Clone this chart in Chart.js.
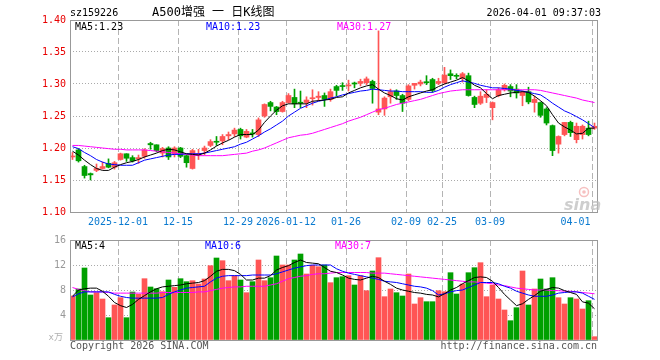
<!DOCTYPE html>
<html><head><meta charset="utf-8">
<script src="https://cdn.jsdelivr.net/npm/chart.js@4/dist/chart.umd.min.js"></script>
<style>
html,body{margin:0;padding:0;background:#fff;width:660px;height:360px;overflow:hidden}
#c1{position:absolute;left:0;top:0}
#c2{position:absolute;left:0;top:230px}
</style></head><body>
<canvas id="c1" width="660" height="230"></canvas>
<canvas id="c2" width="660" height="130"></canvas>
<script>
// ---- data ----
const opens  = [1.186,1.197,1.171,1.160,1.165,1.168,1.176,1.170,1.182,1.191,1.185,1.183,1.187,1.207,1.205,1.192,1.200,1.191,1.200,1.188,1.168,1.189,1.196,1.204,1.210,1.211,1.219,1.222,1.229,1.217,1.223,1.221,1.250,1.271,1.264,1.257,1.271,1.279,1.271,1.271,1.277,1.279,1.282,1.276,1.296,1.297,1.297,1.301,1.301,1.302,1.304,1.256,1.261,1.280,1.289,1.282,1.276,1.298,1.300,1.303,1.307,1.301,1.302,1.316,1.313,1.309,1.313,1.279,1.270,1.279,1.263,1.282,1.291,1.296,1.292,1.282,1.288,1.271,1.271,1.261,1.235,1.206,1.221,1.240,1.213,1.221,1.231,1.231];
const highs  = [1.193,1.199,1.173,1.161,1.175,1.178,1.183,1.179,1.192,1.191,1.188,1.189,1.199,1.209,1.205,1.201,1.202,1.202,1.201,1.189,1.198,1.198,1.203,1.213,1.218,1.221,1.225,1.231,1.231,1.229,1.229,1.247,1.269,1.273,1.265,1.273,1.285,1.292,1.289,1.280,1.291,1.288,1.286,1.292,1.298,1.302,1.306,1.303,1.3075,1.311,1.306,1.383,1.280,1.292,1.291,1.284,1.299,1.301,1.306,1.313,1.309,1.309,1.326,1.322,1.316,1.318,1.317,1.281,1.288,1.291,1.272,1.294,1.300,1.299,1.299,1.289,1.295,1.281,1.272,1.263,1.236,1.219,1.240,1.242,1.239,1.236,1.242,1.239];
const lows   = [1.182,1.178,1.153,1.150,1.163,1.167,1.169,1.167,1.181,1.179,1.178,1.176,1.184,1.198,1.194,1.186,1.182,1.186,1.185,1.170,1.167,1.182,1.189,1.202,1.204,1.205,1.213,1.218,1.214,1.216,1.217,1.218,1.248,1.258,1.252,1.256,1.270,1.263,1.263,1.263,1.267,1.274,1.265,1.273,1.281,1.290,1.289,1.294,1.297,1.299,1.270,1.252,1.251,1.270,1.276,1.257,1.274,1.292,1.297,1.299,1.287,1.299,1.300,1.307,1.308,1.303,1.281,1.263,1.268,1.271,1.244,1.280,1.289,1.280,1.278,1.266,1.269,1.256,1.248,1.236,1.188,1.192,1.219,1.218,1.208,1.214,1.219,1.229];
const closes = [1.187,1.180,1.157,1.158,1.168,1.171,1.170,1.177,1.191,1.184,1.180,1.185,1.197,1.205,1.196,1.199,1.186,1.200,1.187,1.177,1.196,1.191,1.200,1.210,1.209,1.218,1.221,1.228,1.219,1.226,1.222,1.244,1.268,1.265,1.257,1.271,1.282,1.269,1.270,1.275,1.278,1.281,1.276,1.288,1.290,1.296,1.298,1.300,1.304,1.308,1.293,1.261,1.278,1.288,1.282,1.270,1.297,1.301,1.303,1.302,1.290,1.304,1.314,1.313,1.312,1.316,1.282,1.268,1.281,1.284,1.271,1.291,1.298,1.289,1.286,1.287,1.272,1.276,1.251,1.239,1.196,1.218,1.240,1.224,1.234,1.234,1.221,1.234];
const ma5  = [1.195,1.189,1.181,1.174,1.168,1.165,1.165,1.170,1.174,1.177,1.179,1.182,1.186,1.189,1.192,1.196,1.198,1.197,1.194,1.191,1.190,1.189,1.192,1.197,1.203,1.208,1.212,1.217,1.221,1.221,1.221,1.228,1.240,1.250,1.259,1.266,1.269,1.269,1.269,1.269,1.273,1.274,1.275,1.276,1.279,1.280,1.286,1.290,1.294,1.297,1.299,1.292,1.286,1.282,1.277,1.275,1.280,1.283,1.286,1.289,1.291,1.296,1.300,1.303,1.306,1.310,1.305,1.298,1.294,1.285,1.277,1.282,1.284,1.286,1.287,1.288,1.287,1.281,1.274,1.266,1.252,1.239,1.233,1.228,1.222,1.223,1.231,1.231];
const ma10 = [1.202,1.199,1.193,1.188,1.182,1.178,1.175,1.174,1.173,1.173,1.173,1.177,1.181,1.183,1.185,1.187,1.189,1.190,1.190,1.191,1.191,1.191,1.192,1.194,1.196,1.198,1.200,1.202,1.206,1.209,1.214,1.219,1.225,1.230,1.236,1.242,1.250,1.256,1.262,1.266,1.270,1.273,1.275,1.278,1.280,1.283,1.285,1.287,1.289,1.290,1.292,1.291,1.290,1.289,1.289,1.288,1.288,1.288,1.288,1.287,1.287,1.290,1.295,1.299,1.302,1.305,1.303,1.301,1.298,1.296,1.294,1.294,1.293,1.292,1.290,1.289,1.287,1.285,1.283,1.277,1.270,1.264,1.258,1.254,1.249,1.244,1.238,1.232];
const ma30 = [1.204,1.204,1.203,1.202,1.201,1.200,1.199,1.198,1.198,1.197,1.197,1.197,1.197,1.196,1.195,1.194,1.193,1.192,1.191,1.190,1.189,1.188,1.188,1.188,1.188,1.188,1.189,1.190,1.191,1.192,1.195,1.197,1.200,1.204,1.208,1.212,1.216,1.218,1.220,1.221,1.223,1.226,1.229,1.232,1.235,1.238,1.242,1.245,1.248,1.252,1.256,1.260,1.262,1.265,1.268,1.270,1.272,1.274,1.276,1.279,1.282,1.285,1.287,1.289,1.290,1.291,1.291,1.291,1.291,1.291,1.291,1.291,1.291,1.291,1.291,1.291,1.291,1.291,1.290,1.288,1.286,1.284,1.282,1.280,1.278,1.275,1.273,1.271];
const volumes = [7.04,8.16,11.52,7.2,7.57,6.56,3.57,5.6,6.77,3.57,7.68,7.31,9.81,8.48,8.21,7.73,9.6,8.43,9.81,9.33,9.49,8.96,9.76,11.89,13.12,12.69,9.49,10.29,9.6,7.57,9.33,12.8,9.49,9.97,13.44,12.0,12.0,12.8,13.76,10.56,11.95,11.73,12.0,9.17,9.97,10.13,10.29,8.8,10.29,7.89,11.04,13.17,6.93,8.16,7.57,7.04,10.56,5.76,6.77,6.13,6.13,7.89,7.73,10.77,7.36,8.96,10.77,11.57,12.37,6.93,8.8,6.56,4.8,3.09,5.17,11.04,5.6,8.16,9.76,8.16,9.97,6.77,5.76,6.77,6.56,4.96,6.29,0.53];
const volMa5  = [7.0,8.0,8.2,8.3,8.3,7.8,7.0,6.0,5.5,5.2,5.7,6.5,7.1,7.7,8.2,8.5,8.6,8.7,8.8,9.0,9.1,9.2,9.5,10.2,11.0,11.3,11.3,11.1,10.5,9.6,9.6,9.9,9.9,10.3,11.2,11.6,11.9,12.4,12.8,12.4,12.3,12.2,11.6,11.0,10.8,10.4,9.9,9.7,9.6,9.9,10.2,10.0,9.4,8.9,8.3,8.0,7.8,7.6,7.5,7.3,7.2,6.9,7.4,8.0,8.4,9.0,9.5,10.0,10.1,10.0,9.4,8.4,7.3,6.4,5.5,5.8,6.5,7.1,7.8,8.1,8.4,8.3,7.9,7.6,7.3,6.1,5.9,5.0];
const volMa10 = [6.9,7.4,7.7,7.7,7.7,7.7,7.7,7.3,7.0,6.8,6.7,6.7,6.7,6.7,6.7,6.8,7.3,7.7,8.0,8.3,8.4,8.5,8.6,9.3,9.9,10.2,10.3,10.3,10.3,10.3,10.4,10.4,10.4,10.4,10.6,10.9,11.2,11.5,11.7,11.9,12.0,12.0,12.0,12.0,11.4,11.0,10.7,10.5,10.3,10.1,9.9,9.7,9.4,9.3,9.2,9.0,8.8,8.6,8.5,8.3,7.9,7.2,7.4,7.7,7.9,8.0,8.4,8.8,9.2,9.2,9.2,9.0,8.6,8.3,7.8,7.5,7.2,7.0,7.0,7.0,7.2,7.5,7.6,7.7,7.7,7.5,7.0,6.5];
const volMa30 = [8.4,8.1,7.9,7.7,7.7,7.7,7.6,7.5,7.5,7.5,7.5,7.5,7.5,7.5,7.5,7.6,7.6,7.6,7.6,7.6,7.6,7.7,7.7,7.9,8.1,8.3,8.4,8.5,8.5,8.6,8.6,8.6,8.6,8.8,9.0,9.4,9.8,10.0,10.2,10.3,10.5,10.6,10.6,10.7,10.8,10.8,10.8,10.8,10.8,10.8,10.7,10.7,10.7,10.6,10.5,10.4,10.3,10.2,10.1,10.0,9.9,9.8,9.7,9.6,9.5,9.4,9.3,9.3,9.2,9.1,9.0,8.8,8.7,8.5,8.3,8.2,8.1,8.0,8.0,8.0,7.9,7.9,7.8,7.8,7.7,7.6,7.5,7.4];
const dateTicks  = [8,18,28,36,46,56,62,70,87];
const dateLabels = ['2025-12-01','12-15','12-29','2026-01-12','01-26','02-09','02-25','03-09','04-01'];
const priceTicks = [1.10,1.15,1.20,1.25,1.30,1.35,1.40];
const volTicks   = [0,4,8,12,16];
const priceMaLabels = ['MA5:1.23','MA10:1.23','MA30:1.27'];
const volMaLabels   = ['MA5:4','MA10:6','MA30:7'];
const headerCode = 'sz159226';
const headerTitle = 'A500增强 一 日K线图';
const headerTime = '2026-04-01 09:37:03';

// ---- styling / rendering ----
const RED = '#ff5555', GREEN = '#00a000';
const MA_COLORS = ['#000000', '#0000ff', '#ff00ff'];
const MONO = "10px 'DejaVu Sans Mono', monospace";
Chart.defaults.font.family = "'DejaVu Sans Mono', monospace";
Chart.defaults.font.size = 10;

const X_MIN = -5/12, X_MAX = X_MIN + 88;
const upColors = closes.map((c, i) => c >= opens[i] ? RED : GREEN);
const pts = arr => arr.map((v, i) => ({x: i, y: v}));
const lineDs = (arr, k) => ({type: 'line', data: pts(arr), borderColor: MA_COLORS[k], borderWidth: 1,
  pointRadius: 0, tension: 0, order: 0});

function txt(ctx, s, x, y, color, font, align) {
  ctx.save(); ctx.font = font || MONO; ctx.fillStyle = color; ctx.textAlign = align || 'left';
  ctx.textBaseline = 'middle'; ctx.fillText(s, x, y); ctx.restore();
}
function frame(chart) {
  const a = chart.chartArea, ctx = chart.ctx;
  ctx.save(); ctx.strokeStyle = '#999'; ctx.lineWidth = 1;
  ctx.strokeRect(a.left + 0.5, a.top + 0.5, a.right - a.left - 1, a.bottom - a.top);
  ctx.restore();
}
const xScale = () => ({
  type: 'linear', min: X_MIN, max: X_MAX, offset: false,
  afterBuildTicks: s => { s.ticks = dateTicks.map(v => ({value: v - 0.33})); },
  afterFit: s => { s.height = 0; },
  ticks: {display: false},
  grid: {color: '#b4b4b4', lineWidth: 1, drawTicks: false, offset: false},
  border: {display: false, dash: [6, 3]}
});

const pricePlugin = {
  id: 'pricePanel',
  afterDraw(chart) {
    const ctx = chart.ctx, xs = chart.scales.x;
    frame(chart);
    txt(ctx, headerCode, 70, 13, '#000');
    txt(ctx, headerTitle, 152, 13, '#000', "12px 'DejaVu Sans Mono', 'Noto Sans CJK SC', sans-serif");
    txt(ctx, headerTime, 601, 13, '#000', MONO, 'right');
    txt(ctx, priceMaLabels[0], 75, 27, MA_COLORS[0]);
    txt(ctx, priceMaLabels[1], 206, 27, MA_COLORS[1]);
    txt(ctx, priceMaLabels[2], 337, 27, MA_COLORS[2]);
    dateTicks.forEach((t, k) => {
      const px = xs.getPixelForValue(t - 0.33);
      if (k === dateTicks.length - 1) txt(ctx, dateLabels[k], 590.5, 222, '#0a7ad0', MONO, 'right');
      else txt(ctx, dateLabels[k], px - 0.5, 222, '#0a7ad0', MONO, 'center');
    });
    // sina watermark
    ctx.save();
    ctx.strokeStyle = 'rgba(240,150,150,0.6)'; ctx.lineWidth = 1.5;
    ctx.beginPath(); ctx.arc(584, 192, 4.5, 0, Math.PI * 2); ctx.stroke();
    ctx.fillStyle = 'rgba(240,150,150,0.6)';
    ctx.beginPath(); ctx.arc(584, 192, 1.8, 0, Math.PI * 2); ctx.fill();
    ctx.font = "italic bold 16px 'DejaVu Sans', sans-serif";
    ctx.fillStyle = 'rgba(190,190,190,0.75)'; ctx.textBaseline = 'alphabetic';
    ctx.fillText('sina', 564, 210);
    ctx.restore();
  }
};

new Chart(document.getElementById('c1'), {
  type: 'bar',
  data: {datasets: [
    lineDs(ma5, 0), lineDs(ma10, 1), lineDs(ma30, 2),
    {type: 'bar', data: opens.map((o, i) => ({x: i, y: [o, closes[i]]})), backgroundColor: upColors,
      barThickness: 5, minBarLength: 1, grouped: false, order: 1},
    {type: 'bar', data: lows.map((l, i) => ({x: i, y: [l, highs[i]]})), backgroundColor: upColors,
      barThickness: 1, grouped: false, order: 2}
  ]},
  options: {
    responsive: false, animation: false, events: [],
    layout: {padding: {left: 0, right: 62, top: 20, bottom: 18}},
    plugins: {legend: {display: false}, tooltip: {enabled: false}},
    scales: {
      x: xScale(),
      y: {
        min: 1.10, max: 1.40,
        afterBuildTicks: s => { s.ticks = priceTicks.map(v => ({value: v})); },
        afterFit: s => { s.width = 70; },
        ticks: {color: '#e80000', padding: 4, callback: v => Number(v).toFixed(2), autoSkip: false},
        grid: {drawTicks: false, lineWidth: 1,
          color: c => (c.tick && (Math.abs(c.tick.value - 1.10) < 1e-6 || Math.abs(c.tick.value - 1.40) < 1e-6)) ? 'rgba(0,0,0,0)' : '#aaaaaa'},
        border: {display: false, dash: [1, 2]}
      }
    }
  },
  plugins: [pricePlugin]
});

const volPlugin = {
  id: 'volPanel',
  afterDraw(chart) {
    const ctx = chart.ctx;
    frame(chart);
    txt(ctx, volMaLabels[0], 75, 16, MA_COLORS[0]);
    txt(ctx, volMaLabels[1], 205, 16, MA_COLORS[1]);
    txt(ctx, volMaLabels[2], 335, 16, MA_COLORS[2]);
    txt(ctx, 'x万', 63, 108, '#b0b0b0', "9px 'DejaVu Sans Mono', 'Noto Sans CJK SC', sans-serif", 'right');
    txt(ctx, 'Copyright 2026 SINA.COM', 70, 116, '#555');
    txt(ctx, 'http://finance.sina.com.cn', 597, 116, '#555', MONO, 'right');
  }
};

new Chart(document.getElementById('c2'), {
  type: 'bar',
  data: {datasets: [
    lineDs(volMa5, 0), lineDs(volMa10, 1), lineDs(volMa30, 2),
    {type: 'bar', data: pts(volumes), backgroundColor: upColors, barThickness: 5, grouped: false, order: 1}
  ]},
  options: {
    responsive: false, animation: false, events: [],
    layout: {padding: {left: 0, right: 62, top: 10, bottom: 20}},
    plugins: {legend: {display: false}, tooltip: {enabled: false}},
    scales: {
      x: xScale(),
      y: {
        min: 0, max: 16,
        afterBuildTicks: s => { s.ticks = volTicks.map(v => ({value: v})); },
        afterFit: s => { s.width = 70; },
        ticks: {color: '#999', padding: 4, callback: v => v === 0 ? '' : String(v), autoSkip: false},
        grid: {drawTicks: false, lineWidth: 1,
          color: c => (c.tick && (c.tick.value === 0 || c.tick.value === 16)) ? 'rgba(0,0,0,0)' : '#aaaaaa'},
        border: {display: false, dash: [1, 2]}
      }
    }
  },
  plugins: [volPlugin]
});
</script>
</body></html>
